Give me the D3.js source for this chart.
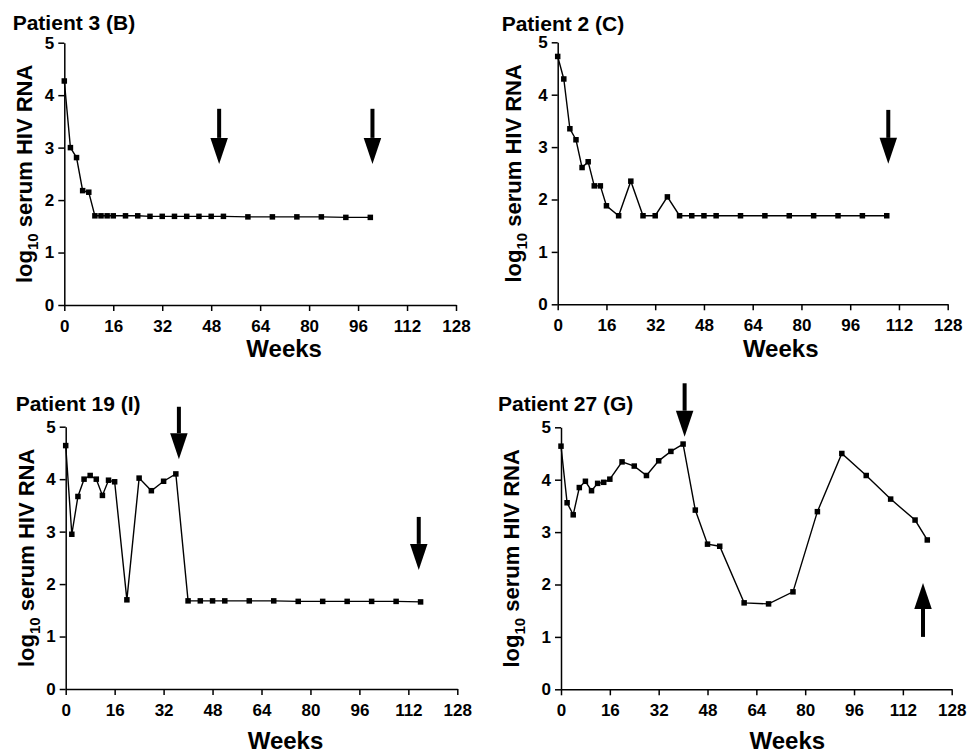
<!DOCTYPE html>
<html>
<head>
<meta charset="utf-8">
<script src="https://cdn.jsdelivr.net/npm/d3@7"></script>
<style>
  body { margin: 0; background: #fff; }
  svg text { font-family: "Liberation Sans", Arial, Helvetica, sans-serif; font-weight: bold; fill: #000; }
</style>
</head>
<body>
<svg id="chart" width="969" height="754"></svg>
<script>
// --- data ---
const xTickValues = [0, 16, 32, 48, 64, 80, 96, 112, 128];
const yTickValues = [0, 1, 2, 3, 4, 5];
const panelTitles = ["Patient 3 (B)", "Patient 2 (C)", "Patient 19 (I)", "Patient 27 (G)"];

const weeksB = [0, 2, 4, 6, 8, 10, 12, 14, 16, 20, 24, 28, 32, 36, 40, 44, 48, 52, 60, 68, 76, 84, 92, 100];
const rnaB   = [4.27, 3.00, 2.81, 2.18, 2.15, 1.70, 1.70, 1.70, 1.70, 1.70, 1.70, 1.69, 1.69, 1.69, 1.69, 1.69, 1.69, 1.69, 1.68, 1.68, 1.68, 1.68, 1.67, 1.67];

const weeksC = [0, 2, 4, 6, 8, 10, 12, 14, 16, 20, 24, 28, 32, 36, 40, 44, 48, 52, 60, 68, 76, 84, 92, 100, 108];
const rnaC   = [4.73, 4.30, 3.35, 3.14, 2.61, 2.72, 2.26, 2.26, 1.88, 1.69, 2.35, 1.69, 1.69, 2.05, 1.69, 1.69, 1.69, 1.69, 1.69, 1.69, 1.69, 1.69, 1.69, 1.69, 1.69];

const weeksI = [0, 2, 4, 6, 8, 10, 12, 14, 16, 20, 24, 28, 32, 36, 40, 44, 48, 52, 60, 68, 76, 84, 92, 100, 108, 116];
const rnaI   = [4.64, 2.95, 3.67, 4.00, 4.07, 4.00, 3.69, 3.98, 3.95, 1.70, 4.02, 3.78, 3.96, 4.10, 1.68, 1.68, 1.68, 1.68, 1.68, 1.68, 1.67, 1.67, 1.67, 1.67, 1.67, 1.66];

const weeksG = [0, 2, 4, 6, 8, 10, 12, 14, 16, 20, 24, 28, 32, 36, 40, 44, 48, 52, 60, 68, 76, 84, 92, 100, 108, 116, 120];
const rnaG   = [4.64, 3.56, 3.33, 3.85, 3.97, 3.79, 3.93, 3.95, 4.01, 4.34, 4.26, 4.08, 4.36, 4.54, 4.68, 3.42, 2.77, 2.73, 1.65, 1.63, 1.86, 3.39, 4.50, 4.08, 3.63, 3.23, 2.85];

// arrows: week, tail (log value), tip (log value)
const arrowsB = [{week: 50.6, from: 3.74, to: 2.69}, {week: 100.7, from: 3.74, to: 2.69}];
const arrowsC = [{week: 108.5, from: 3.71, to: 2.68}];
const arrowsI = [{week: 37.0, from: 5.38, to: 4.38}, {week: 115.4, from: 3.28, to: 2.27}];
const arrowsG = [{week: 40.5, from: 5.84, to: 4.82}, {week: 118.6, from: 1.00, to: 2.03}];

const panelWeeks  = [weeksB, weeksC, weeksI, weeksG];
const panelRna    = [rnaB, rnaC, rnaI, rnaG];
const panelArrows = [arrowsB, arrowsC, arrowsI, arrowsG];

// --- layout ---
const layout = [
  {left: 64.3, top: 42.7, width: 391.7, height: 262.3, titleX: 12.7, titleY: 30,  ylabOff: 32, weeksDx: 24, weeksDy: 52},
  {left: 557.7, top: 42.3, width: 390,  height: 262,   titleX: 501.7, titleY: 30.5, ylabOff: 37, weeksDx: 28, weeksDy: 53},
  {left: 65.7, top: 426.7, width: 391.6, height: 262.3, titleX: 15.7, titleY: 410.5, ylabOff: 32, weeksDx: 24, weeksDy: 60},
  {left: 561,  top: 427.3, width: 390.7, height: 262,   titleX: 498,  titleY: 410.5, ylabOff: 42, weeksDx: 31, weeksDy: 60}
];

const svg = d3.select("#chart");

function styleAxis(sel)
{
  sel.attr("font-family", null).attr("font-size", null);
  sel.selectAll("path, line").attr("stroke", "#000").attr("stroke-width", 1.5);
  sel.selectAll("text").style("font-size", "17px");
}

function drawPanel(i)
{
  const L = layout[i];
  const x = d3.scaleLinear().domain([0, 128]).range([L.left, L.left + L.width]);
  const y = d3.scaleLinear().domain([0, 5]).range([L.top + L.height, L.top]);
  const g = svg.append("g");

  g.append("g")
    .attr("transform", `translate(0,${y(0)})`)
    .call(d3.axisBottom(x).tickValues(xTickValues).tickFormat(d3.format("d"))
      .tickSize(6).tickSizeOuter(0).tickPadding(9))
    .call(styleAxis);

  g.append("g")
    .attr("transform", `translate(${x(0)},0)`)
    .call(d3.axisLeft(y).tickValues(yTickValues).tickFormat(d3.format("d"))
      .tickSize(6).tickSizeOuter(0).tickPadding(4))
    .call(styleAxis);

  // title
  g.append("text")
    .attr("x", L.titleX).attr("y", L.titleY)
    .style("font-size", "21px")
    .text(panelTitles[i]);

  // x label
  g.append("text")
    .attr("x", (x(0) + x(128)) / 2 + L.weeksDx)
    .attr("y", y(0) + L.weeksDy)
    .attr("text-anchor", "middle")
    .style("font-size", "24px")
    .text("Weeks");

  // y label with subscript
  const yl = g.append("text")
    .attr("transform", `translate(${x(0) - L.ylabOff},${(y(0) + y(5)) / 2}) rotate(-90)`)
    .attr("text-anchor", "middle")
    .style("font-size", "22px");
  yl.append("tspan").text("log");
  yl.append("tspan").attr("dy", 6).style("font-size", "15px").text("10");
  yl.append("tspan").attr("dy", -6).text(" serum HIV RNA");

  const pts = panelWeeks[i].map((w, k) => [w, panelRna[i][k]]);

  g.append("path")
    .datum(pts)
    .attr("fill", "none")
    .attr("stroke", "#000")
    .attr("stroke-width", 1.4)
    .attr("d", d3.line().x(d => x(d[0])).y(d => y(d[1])));

  const s = 5.5;
  g.selectAll("rect.pt")
    .data(pts)
    .enter().append("rect")
      .attr("class", "pt")
      .attr("x", d => x(d[0]) - s / 2)
      .attr("y", d => y(d[1]) - s / 2)
      .attr("width", s).attr("height", s)
      .attr("fill", "#000");

  // arrows
  const headH = 26, headW = 17.5, shaftW = 4;
  panelArrows[i].forEach(a => {
    const ax = x(a.week), yTail = y(a.from), yTip = y(a.to);
    const dir = yTip > yTail ? 1 : -1;       // 1 = pointing down
    const yBase = yTip - dir * headH;
    g.append("rect")
      .attr("x", ax - shaftW / 2)
      .attr("y", Math.min(yTail, yBase))
      .attr("width", shaftW)
      .attr("height", Math.abs(yBase - yTail))
      .attr("fill", "#000");
    g.append("path")
      .attr("d", `M${ax - headW / 2},${yBase}L${ax + headW / 2},${yBase}L${ax},${yTip}Z`)
      .attr("fill", "#000");
  });
}

for (let i = 0; i < 4; i++) drawPanel(i);
</script>
</body>
</html>
